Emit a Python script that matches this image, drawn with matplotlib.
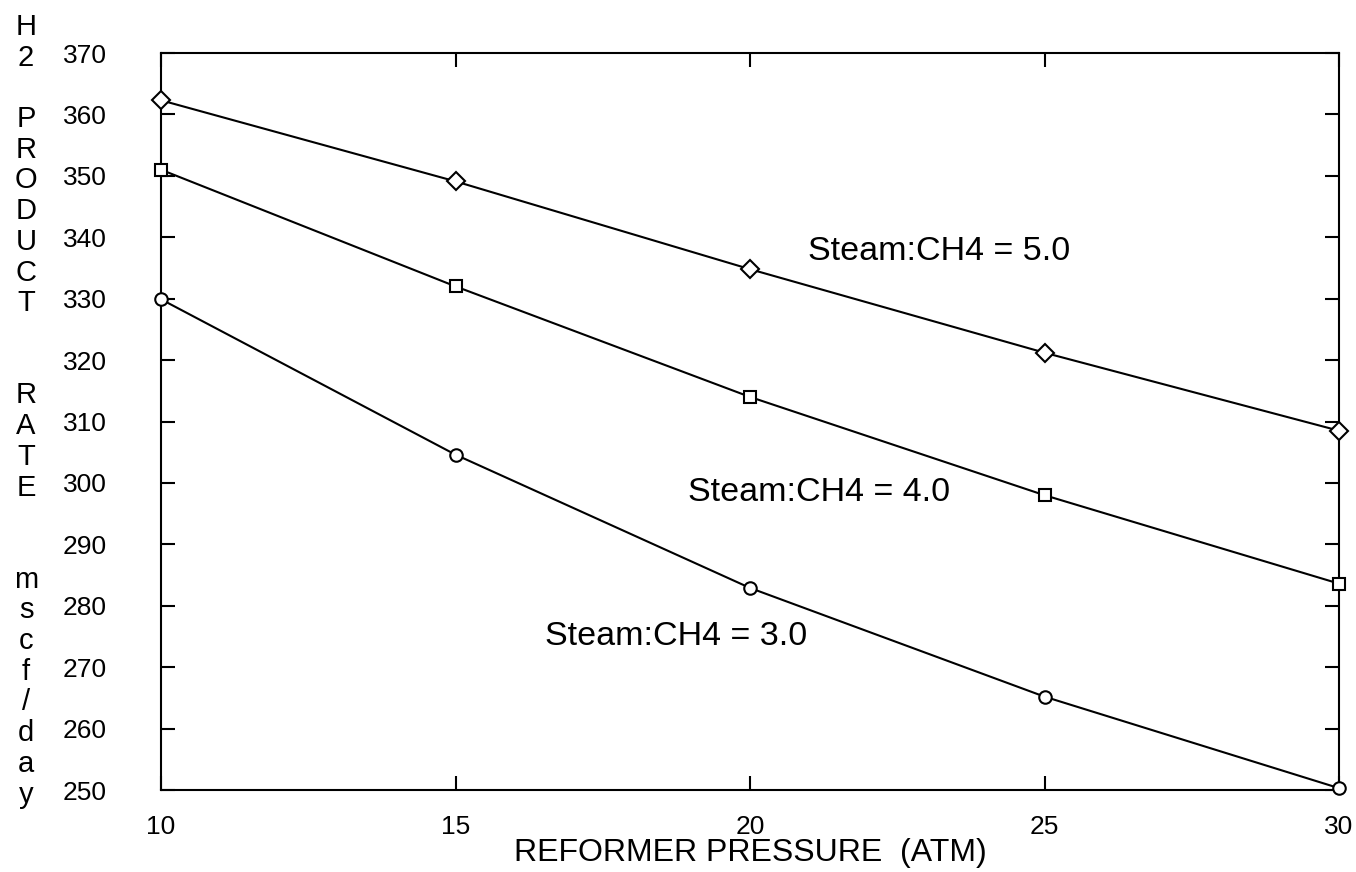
import numpy as np
import matplotlib.pyplot as plt

plt.rcParams['font.family'] = ['Liberation Sans', 'DejaVu Sans']

pressure = [10, 15, 20, 25, 30]
rate_50 = [362.3, 349.1, 334.8, 321.2, 308.5]
rate_40 = [351.0, 332.0, 314.0, 298.0, 283.6]
rate_30 = [329.9, 304.6, 282.9, 265.2, 250.3]

series = [
    (rate_50, 'D', 9, 'Steam:CH4 = 5.0', (20.98, 337.7)),
    (rate_40, 's', 8, 'Steam:CH4 = 4.0', (18.95, 298.4)),
    (rate_30, 'o', 9, 'Steam:CH4 = 3.0', (16.52, 275.0)),
]

ylabel_chars = "H2 PRODUCT  RATE  mscf/day"


def main():
    W, H = 1356, 872
    fig = plt.figure(figsize=(W / 100, H / 100), dpi=100)
    ax = fig.add_axes([161 / W, 82 / H, 1178 / W, 737 / H])

    for vals, mk, ms, label, pos in series:
        ax.plot(pressure, vals, color='black', lw=1.5, marker=mk, ms=ms,
                mfc='white', mec='black', mew=1.5, clip_on=False, zorder=3)
        ax.text(pos[0], pos[1], label, fontsize=24.5, ha='left', va='center')

    ax.set_xlim(10, 30)
    ax.set_ylim(250, 370)
    ax.set_xticks([10, 15, 20, 25, 30])
    ax.set_yticks(np.arange(250, 371, 10))
    ax.tick_params(axis='both', direction='in', length=10, width=1.5,
                   top=True, right=True, labelsize=19)
    ax.tick_params(axis='y', pad=39)
    ax.tick_params(axis='x', pad=18)
    for s in ax.spines.values():
        s.set_linewidth(1.5)

    ax.set_xlabel("REFORMER PRESSURE  (ATM)", fontsize=23, labelpad=-1)

    # stacked vertical y label, one character per line
    for i, ch in enumerate(ylabel_chars):
        if ch.strip():
            fig.text(26 / W, 1 - (27 + i * 30.7) / H, ch, fontsize=21,
                     ha='center', va='center')

    plt.savefig("out.png", dpi=100)


if __name__ == "__main__":
    main()
